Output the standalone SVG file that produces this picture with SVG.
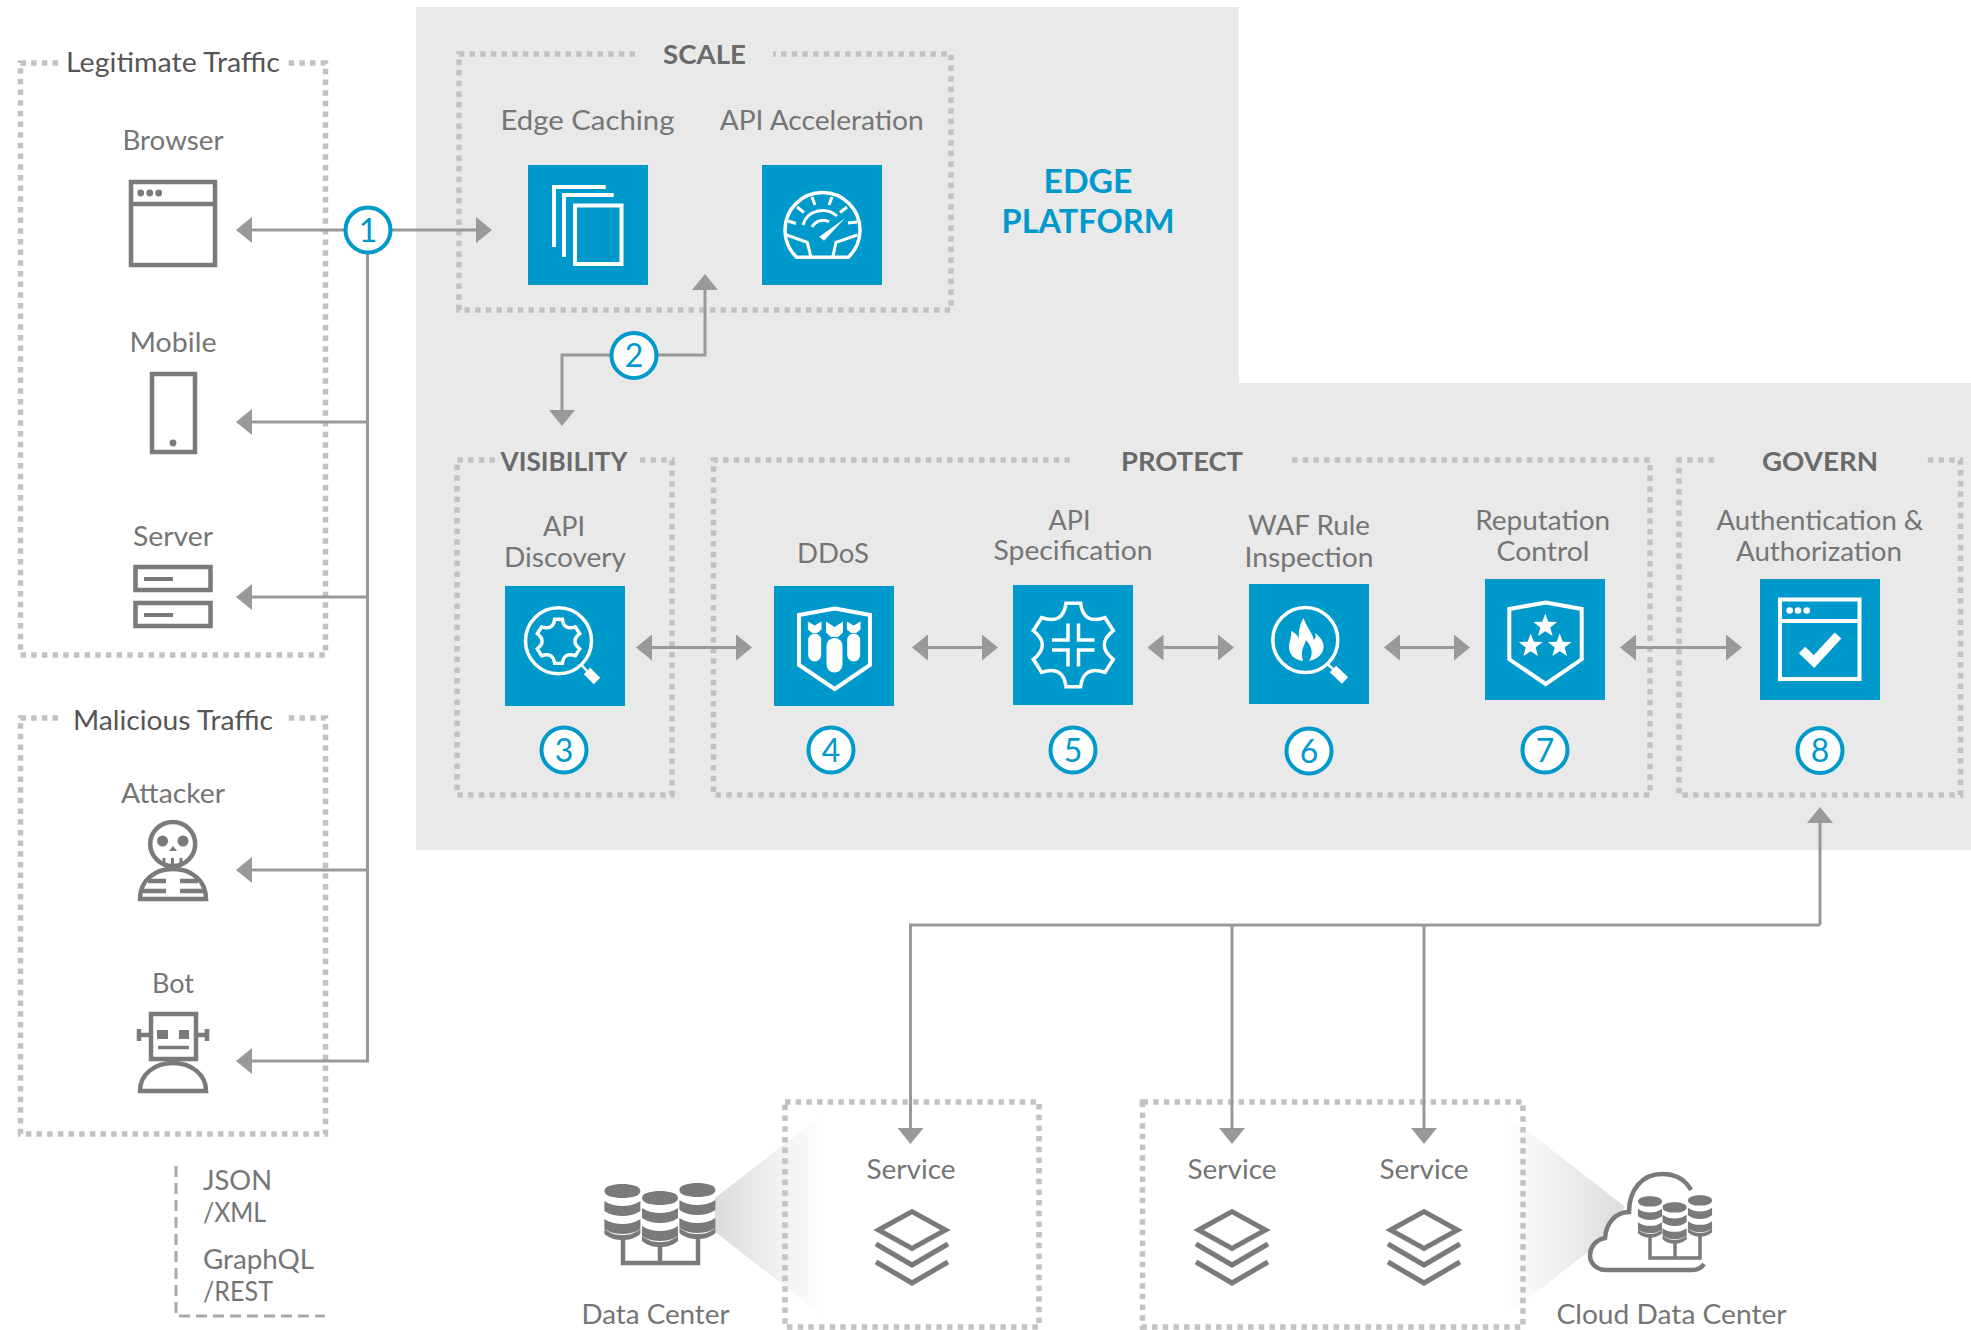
<svg xmlns="http://www.w3.org/2000/svg" width="1971" height="1330" viewBox="0 0 1971 1330">
<style>
text{font-family:"Lato","Noto Sans","Liberation Sans",sans-serif;text-anchor:middle}
.l{font-size:26px;fill:#757575}
.h{font-size:26px;fill:#555}
.s{font-size:27px;font-weight:700;fill:#6a6a6a}
.e{font-size:32px;font-weight:700;fill:#0099cc}
.t{font-size:26px;fill:#757575;text-anchor:start}
.n{font-size:32px;fill:#0099cc}
.d{fill:none;stroke:#c2c2c2;stroke-width:5.500;stroke-dasharray:5.500 5.170}
.c{fill:none;stroke:#999;stroke-width:3}
.a{marker-end:url(#ah)}
.b{marker-start:url(#ah);marker-end:url(#ah)}
.sq{fill:#0099cc}
.w{fill:none;stroke:#fff;stroke-width:4}
.wf{fill:#fff}
.g{fill:none;stroke:#7a7a7a;stroke-width:4.500}
.gf{fill:#7a7a7a}
.num{fill:#fff;stroke:#0099cc;stroke-width:4}
</style>
<defs>
<marker id="ah" markerUnits="userSpaceOnUse" markerWidth="16" markerHeight="26" viewBox="0 0 16 26" refX="0" refY="13" orient="auto-start-reverse"><path d="M0 0L16 13L0 26Z" fill="#999"/></marker>
<linearGradient id="gl" gradientUnits="userSpaceOnUse" x1="715" y1="0" x2="826" y2="0"><stop offset="0" stop-color="#dcdcdc"/><stop offset="1" stop-color="#fff"/></linearGradient>
<linearGradient id="gr" gradientUnits="userSpaceOnUse" x1="1625" y1="0" x2="1505" y2="0"><stop offset="0" stop-color="#dcdcdc"/><stop offset="1" stop-color="#fff"/></linearGradient>
<path id="hide" d="M-7.300-41.700L7.300-41.700Q10-20 31.700-27.300L40-14.300Q22 0 40 14.300L31.700 27.300Q10 20 7.300 41.700L-7.300 41.700Q-10 20-31.700 27.300L-40 14.300Q-22 0-40-14.300L-31.700-27.300Q-10-20-7.300-41.700Z"/>
<polygon id="star" points="0,-12.5 3.06,-4.2 11.9,-3.9 4.95,1.6 7.35,10.1 0,5.2 -7.35,10.1 -4.95,1.6 -11.9,-3.9 -3.06,-4.2" fill="#fff"/>
<g id="stack"><path class="g" style="stroke-width:5" d="M-33.500 22L0 3.500L33.500 22L0 40.500Z"/><path class="g" style="stroke-width:5" d="M-36 36L0 57L36 36M-36 54L0 75L36 54"/></g>
<g id="cyl"><path class="gf" d="M-18 6C-18 1-9-1 0-1S18 1 18 6S9 13 0 13S-18 11-18 6ZM-18 16C-12 20-6 21 0 21S12 20 18 16V26C12 30 6 31 0 31S-12 30-18 26ZM-18 34C-12 38-6 39 0 39S12 38 18 34V44C12 48 6 49 0 49S-12 48-18 44Z"/><path class="gf" d="M-18 44C-12 49-6 50 0 50S12 49 18 44V49C12 54 6 55 0 55S-12 54-18 49Z"/></g>
<g id="bomb"><path d="M-8.500 0L0 5.500L8.500 0V11L3.500 15.500H-3.500L-8.500 11Z" fill="#fff"/><rect x="-8" y="16.500" width="16" height="34.500" rx="8" fill="#fff"/></g>
<g id="bomb-small"><path d="M-6.800 0L0 4L6.800 0V8L2.500 11.500H-2.500L-6.800 8Z" fill="#fff"/><rect x="-6.500" y="12" width="13" height="28" rx="6.500" fill="#fff"/></g>
</defs>

<path id="platform-bg" d="M416 7H1239V383H1971V850H416Z" fill="#e9e9e9"/>

<g id="wedges">
<path d="M715 1198L826 1112V1318L715 1232Z" fill="url(#gl)"/>
<path d="M1625 1207L1505 1113V1317L1590 1250Z" fill="url(#gr)"/>
</g>

<g id="legitimate-traffic"><path class="d" d="M58 63H20.500V655H325.500V63H287"/><text class="h" x="173" y="72" textLength="214" lengthAdjust="spacingAndGlyphs">Legitimate Traffic</text></g>
<g id="malicious-traffic"><path class="d" d="M58 718H20.500V1134H325.500V718H287"/><text class="h" x="173" y="730" textLength="200" lengthAdjust="spacingAndGlyphs">Malicious Traffic</text></g>
<g id="scale"><path class="d" d="M635 54H459V310H951V54H773"/><text class="s" x="704.500" y="64" textLength="83" lengthAdjust="spacingAndGlyphs">SCALE</text></g>
<g id="visibility"><path class="d" d="M495 460H457V795H672V460H640"/><text class="s" x="564" y="471" textLength="127" lengthAdjust="spacingAndGlyphs">VISIBILITY</text></g>
<g id="protect"><path class="d" d="M1070 460H713.500V795H1650V460H1287"/><text class="s" x="1182" y="471" textLength="122" lengthAdjust="spacingAndGlyphs">PROTECT</text></g>
<g id="govern"><path class="d" d="M1714 460H1679V795H1960.500V460H1925"/><text class="s" x="1820" y="471" textLength="116" lengthAdjust="spacingAndGlyphs">GOVERN</text></g>
<g id="dc-box"><path class="d" d="M785 1102H1039V1327H785Z"/></g>
<g id="cloud-box"><path class="d" d="M1142.500 1102H1523V1327H1142.500Z"/></g>

<g id="connectors">
<path class="c a" d="M345 230H252"/>
<path class="c a" d="M390 230H476"/>
<path class="c" d="M367.500 254V1061"/>
<path class="c a" d="M367.500 422H252"/>
<path class="c a" d="M367.500 597H252"/>
<path class="c a" d="M367.500 870H252"/>
<path class="c a" d="M369 1061H252"/>
<path class="c a" d="M611 355H562V410"/>
<path class="c a" d="M657 355H705V290"/>
<path class="c b" d="M652 647.500H736"/>
<path class="c b" d="M928 647.500H982"/>
<path class="c b" d="M1163.500 647.500H1218"/>
<path class="c b" d="M1400 647.500H1454"/>
<path class="c b" d="M1636 647.500H1726"/>
<path class="c a" d="M1820 925V823"/>
<path class="c a" d="M1820 925H910.500V1128"/>
<path class="c a" d="M1232 925V1128"/>
<path class="c a" d="M1424 925V1128"/>
</g>

<g id="edge-platform"><text class="e" x="1088" y="193" textLength="89" lengthAdjust="spacingAndGlyphs">EDGE</text><text class="e" x="1088" y="233" textLength="173" lengthAdjust="spacingAndGlyphs">PLATFORM</text></g>

<g id="browser"><text class="l" x="173" y="150" textLength="101" lengthAdjust="spacingAndGlyphs">Browser</text><rect class="g" x="131" y="182" width="84" height="83"/><path class="g" d="M131 204H215"/><circle class="gf" cx="140.700" cy="193" r="3.400"/><circle class="gf" cx="149.700" cy="193" r="3.400"/><circle class="gf" cx="158.700" cy="193" r="3.400"/></g>
<g id="mobile"><text class="l" x="173" y="352" textLength="87" lengthAdjust="spacingAndGlyphs">Mobile</text><rect class="g" x="152" y="374" width="43" height="78"/><circle class="gf" cx="173" cy="443" r="3.400"/></g>
<g id="server"><text class="l" x="173" y="546" textLength="80" lengthAdjust="spacingAndGlyphs">Server</text><rect class="g" x="135.500" y="567" width="75" height="23"/><rect class="g" x="135.500" y="603" width="75" height="23"/><path class="g" style="stroke-width:4" d="M144 579H173M144 615H173"/></g>
<g id="attacker"><text class="l" x="173" y="803" textLength="104" lengthAdjust="spacingAndGlyphs">Attacker</text><ellipse class="g" cx="172.700" cy="844" rx="22.500" ry="22"/><circle class="gf" cx="162.500" cy="841" r="5.500"/><circle class="gf" cx="183" cy="841" r="5.500"/><path class="gf" d="M173 846L177 851H169Z"/><path class="g" style="stroke-width:3" d="M164 858V866M172.500 858V866M181 858V866"/><path class="g" d="M140 899C140 880 155 869 173 869S206 880 206 899ZM148 881H166M180 881H198M143 891H166M180 891H203"/></g>
<g id="bot"><text class="l" x="173" y="993" textLength="42" lengthAdjust="spacingAndGlyphs">Bot</text><rect class="g" x="151" y="1014" width="45" height="45"/><path class="gf" d="M157 1030H168V1039H157ZM179 1030H189V1039H179Z"/><path class="g" style="stroke-width:3.500" d="M158 1047.500H189"/><path class="g" d="M139 1035H151M196 1035H208"/><path class="g" d="M139 1029V1041M207 1029V1041"/><path class="g" d="M140 1091C140 1074 155 1063 173 1063S206 1074 206 1091Z"/></g>

<g id="legend"><path fill="none" stroke="#aaa" stroke-width="3" stroke-dasharray="11 6" d="M176 1166V1316H325"/><text class="t" x="203" y="1190" textLength="69" lengthAdjust="spacingAndGlyphs">JSON</text><text class="t" x="203" y="1222" textLength="63" lengthAdjust="spacingAndGlyphs">/XML</text><text class="t" x="203" y="1269" textLength="111" lengthAdjust="spacingAndGlyphs">GraphQL</text><text class="t" x="203" y="1301" textLength="70" lengthAdjust="spacingAndGlyphs">/REST</text></g>

<g id="edge-caching"><text class="l" x="587.500" y="130" textLength="174" lengthAdjust="spacingAndGlyphs">Edge Caching</text><rect class="sq" x="528" y="165" width="120" height="120"/><path class="w" d="M554 247V187H605.700M564 257V195H613.700"/><rect class="w" x="575" y="205.500" width="46.500" height="58.500"/></g>

<g id="api-acceleration"><text class="l" x="821.700" y="130" textLength="204" lengthAdjust="spacingAndGlyphs">API Acceleration</text><rect class="sq" x="762" y="165" width="120" height="120"/><path class="w" d="M796.700 257.300A37.500 37.500 0 1 1 848.300 257.300Z" style="stroke-width:3.500"/><path class="w" style="stroke-width:3" d="M786.700 235L807.300 242.300L811 257.300M857.300 235L836 242.300L832.700 257.300M788 221L796 223.500M797 207L804 212.500M812 197L815 205M832 197L829 205M847 207L840 212.500M857 222L848 223M803 225C807 210 826 206 837 216M812 227C816 220 824 219 829 222"/><path class="wf" d="M845 218.300L819.300 236.700L824 240.700Z"/></g>

<g id="api-discovery"><text class="l" x="564" y="536" textLength="42" lengthAdjust="spacingAndGlyphs">API</text><text class="l" x="565" y="567" textLength="122" lengthAdjust="spacingAndGlyphs">Discovery</text><rect class="sq" x="505" y="586" width="120" height="120"/><circle class="w" style="stroke-width:3.500" cx="558.500" cy="640.800" r="33"/><use href="#hide" transform="translate(558.500 641.300) scale(.53)" fill="none" stroke="#fff" stroke-width="6.500"/><path class="w" style="stroke-width:2.500" d="M582 665.500L587 671"/><path class="w" style="stroke-width:9" d="M587 671L597 681"/></g>

<g id="ddos"><text class="l" x="833" y="563" textLength="72" lengthAdjust="spacingAndGlyphs">DDoS</text><rect class="sq" x="774" y="586" width="120" height="120"/><path class="w" d="M834.700 608.500L870 615V665L834.700 689L799 665V615Z"/><use href="#bomb" x="834.500" y="621.500"/><use href="#bomb-small" x="814.700" y="621.500"/><use href="#bomb-small" x="853.700" y="621.500"/></g>

<g id="api-specification"><text class="l" x="1069.500" y="530" textLength="42" lengthAdjust="spacingAndGlyphs">API</text><text class="l" x="1073" y="560" textLength="159" lengthAdjust="spacingAndGlyphs">Specification</text><rect class="sq" x="1013" y="585" width="120" height="120"/><use href="#hide" transform="translate(1073.300 645)" fill="none" stroke="#fff" stroke-width="3.500"/><path class="w" style="stroke-width:3.500" d="M1052 640H1068V623.500M1078.500 623.500V640H1094.500M1052 650H1068V666.500M1078.500 666.500V650H1094.500"/></g>

<g id="waf-rule-inspection"><text class="l" x="1309" y="535" textLength="122" lengthAdjust="spacingAndGlyphs">WAF Rule</text><text class="l" x="1309" y="567" textLength="129" lengthAdjust="spacingAndGlyphs">Inspection</text><rect class="sq" x="1249" y="584" width="120" height="120"/><circle class="w" style="stroke-width:3.500" cx="1305.300" cy="640" r="32.500"/><path class="wf" d="M1303.500 618C1307 628 1312 632 1314 640C1316 638 1316 635 1315 633C1322 638 1325 644 1323 650C1321 657 1314 660 1309 661C1313 655 1313 648 1306 640C1304 647 1300 650 1303 661C1295 660 1289 655 1289 647C1289 641 1292 637 1291 631C1296 633 1298 636 1299 639C1298 632 1300 624 1303.500 618Z"/><path class="w" style="stroke-width:2.500" d="M1328.500 665L1333 669"/><path class="w" style="stroke-width:9" d="M1333 669L1345 680.500"/></g>

<g id="reputation-control"><text class="l" x="1542.700" y="530" textLength="135" lengthAdjust="spacingAndGlyphs">Reputation</text><text class="l" x="1543" y="561" textLength="93" lengthAdjust="spacingAndGlyphs">Control</text><rect class="sq" x="1485" y="579" width="120" height="121"/><path class="w" d="M1545.700 602.500L1581.700 609V659.300L1545.700 684L1509.300 659.300V609Z"/><use href="#star" x="1545.300" y="626"/><use href="#star" x="1530.700" y="646"/><use href="#star" x="1559.700" y="646"/></g>

<g id="authentication-authorization"><text class="l" x="1820" y="530" textLength="207" lengthAdjust="spacingAndGlyphs">Authentication &amp;</text><text class="l" x="1819" y="561" textLength="166" lengthAdjust="spacingAndGlyphs">Authorization</text><rect class="sq" x="1760" y="579" width="120" height="121"/><rect class="w" x="1780" y="599.500" width="79.500" height="79.500"/><path class="w" d="M1780 621H1859.500"/><circle class="wf" cx="1789.700" cy="610.500" r="3.300"/><circle class="wf" cx="1798" cy="610.500" r="3.300"/><circle class="wf" cx="1806.700" cy="610.500" r="3.300"/><path class="w" style="stroke-width:9" d="M1802 650L1814 661.500L1838 635.500"/></g>

<g id="badge-1"><circle class="num" cx="368" cy="230" r="22.500"/><text class="n" x="368" y="241.500">1</text></g>
<g id="badge-2"><circle class="num" cx="634" cy="355.500" r="22.500"/><text class="n" x="634" y="367">2</text></g>
<g id="badge-3"><circle class="num" cx="564" cy="750" r="22.500"/><text class="n" x="564" y="761.500">3</text></g>
<g id="badge-4"><circle class="num" cx="831" cy="750" r="22.500"/><text class="n" x="831" y="761.500">4</text></g>
<g id="badge-5"><circle class="num" cx="1073" cy="750" r="22.500"/><text class="n" x="1073" y="761.500">5</text></g>
<g id="badge-6"><circle class="num" cx="1309" cy="751" r="22.500"/><text class="n" x="1309" y="762.500">6</text></g>
<g id="badge-7"><circle class="num" cx="1545" cy="750" r="22.500"/><text class="n" x="1545" y="761.500">7</text></g>
<g id="badge-8"><circle class="num" cx="1820" cy="750.500" r="22.500"/><text class="n" x="1820" y="762">8</text></g>

<g id="service-1"><text class="l" x="911" y="1179" textLength="89" lengthAdjust="spacingAndGlyphs">Service</text><use href="#stack" x="912" y="1208"/></g>
<g id="service-2"><text class="l" x="1232" y="1179" textLength="89" lengthAdjust="spacingAndGlyphs">Service</text><use href="#stack" x="1232" y="1208"/></g>
<g id="service-3"><text class="l" x="1424" y="1179" textLength="89" lengthAdjust="spacingAndGlyphs">Service</text><use href="#stack" x="1424" y="1208"/></g>

<g id="data-center"><use href="#cyl" x="622.400" y="1185"/><use href="#cyl" x="660" y="1192"/><use href="#cyl" x="697.400" y="1184"/><path class="g" d="M623 1236V1263H698V1236M660 1245V1263"/><text class="l" x="655.500" y="1324" textLength="148" lengthAdjust="spacingAndGlyphs">Data Center</text></g>

<g id="cloud-data-center"><path class="g" d="M1691 1190C1685 1179 1674 1174 1662 1174C1642 1174 1629 1190 1629 1212C1615 1212 1606 1224 1605 1238C1595 1240 1590 1248 1590 1255C1590 1264 1597 1270 1606 1270H1692Q1700 1270 1704 1264"/><use href="#cyl" transform="translate(1650 1197) scale(.67 .74)"/><use href="#cyl" transform="translate(1674.600 1203) scale(.67 .74)"/><use href="#cyl" transform="translate(1700 1196) scale(.67 .74)"/><path class="g" style="stroke-width:3.500" d="M1650 1236V1258H1700V1236M1675 1243V1258"/><text class="l" x="1671.500" y="1324" textLength="230" lengthAdjust="spacingAndGlyphs">Cloud Data Center</text></g>
</svg>
